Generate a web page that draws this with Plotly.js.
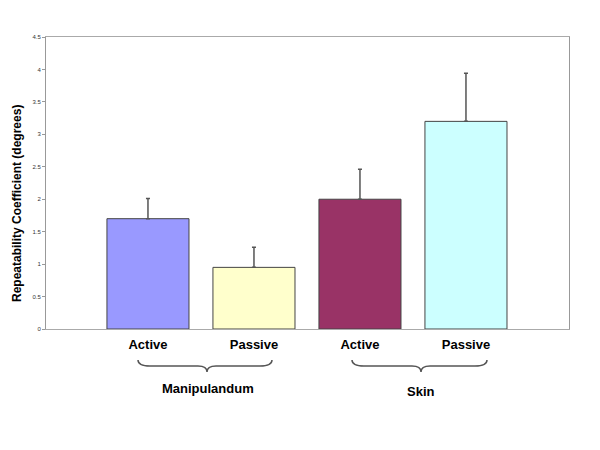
<!DOCTYPE html>
<html>
<head>
<meta charset="utf-8">
<script src="https://cdn.plot.ly/plotly-3.0.1.min.js"></script>
<style>html,body{margin:0;padding:0;background:#fff}#chart{width:600px;height:450px}</style>
</head>
<body>
<div id="chart"></div>
<script>
// Data
var conditions = ['Active', 'Passive', 'Active', 'Passive'];
var groups = ['Manipulandum', 'Manipulandum', 'Skin', 'Skin'];
var values = [1.7, 0.95, 2.0, 3.2];
var errors = [0.31, 0.31, 0.46, 0.74];
var barColors = ['#9999ff', '#ffffcc', '#993366', '#ccffff'];
var yTicks = [0, 0.5, 1, 1.5, 2, 2.5, 3, 3.5, 4, 4.5];
var yTitle = 'Repeatability Coefficient (degrees)';

var idx = conditions.map(function (_, i) { return i; });

// Plot area in pixels (for decorations)
var L = 46, T = 37, R = 569, B = 329, W = 600, H = 450;
function px(x) { return (x - L) / (R - L); }
function py(y) { return (B - y) / (B - T); }

function brace(x1, x2, xc) {
  var y0 = 360, y1 = 366, y2 = 372;
  var p = 'M ' + px(x1) + ',' + py(y0) +
    ' Q ' + px(x1) + ',' + py(y1) + ' ' + px(x1 + 12) + ',' + py(y1) +
    ' L ' + px(xc - 9) + ',' + py(y1) +
    ' Q ' + px(xc) + ',' + py(y1) + ' ' + px(xc) + ',' + py(y2) +
    ' Q ' + px(xc) + ',' + py(y1) + ' ' + px(xc + 9) + ',' + py(y1) +
    ' L ' + px(x2 - 12) + ',' + py(y1) +
    ' Q ' + px(x2) + ',' + py(y1) + ' ' + px(x2) + ',' + py(y0);
  return { type: 'path', xref: 'paper', yref: 'paper', path: p,
    line: { color: '#555', width: 1.5 } };
}

var trace = {
  type: 'bar',
  x: idx,
  y: values,
  width: 0.774,
  marker: { color: barColors, line: { color: '#444', width: 1 } },
  error_y: { type: 'data', array: errors, arrayminus: errors.map(function () { return 0; }),
    symmetric: false, color: '#555', thickness: 1.5, width: 2 },
  hoverinfo: 'none'
};

var font = 'Arial, "Liberation Sans", sans-serif';

var layout = {
  width: W, height: H,
  margin: { l: L, r: W - R, t: T, b: H - B },
  paper_bgcolor: '#fff', plot_bgcolor: '#fff',
  showlegend: false,
  xaxis: {
    type: 'linear',
    range: [-0.962, 3.972],
    tickvals: idx, ticktext: conditions,
    showgrid: false, zeroline: false,
    showline: true, linecolor: '#aaa', linewidth: 1, mirror: true,
    ticks: '', ticklabelstandoff: 3,
    tickfont: { family: font, size: 13, color: '#000', weight: 'bold' }
  },
  yaxis: {
    range: [0, 4.5],
    tickvals: yTicks,
    ticktext: yTicks.map(String),
    showgrid: false, zeroline: false,
    showline: true, linecolor: '#999', linewidth: 1, mirror: true,
    ticks: 'outside', ticklen: 3, tickcolor: '#999',
    tickfont: { family: font, size: 6, color: '#333' }
  },
  shapes: [brace(138, 272, 207), brace(352, 487, 421)],
  annotations: [
    { xref: 'paper', yref: 'paper', x: px(208), y: py(388), xanchor: 'center', yanchor: 'middle',
      text: groups[0], showarrow: false,
      font: { family: font, size: 13, color: '#000', weight: 'bold' } },
    { xref: 'paper', yref: 'paper', x: px(421), y: py(391), xanchor: 'center', yanchor: 'middle',
      text: groups[2], showarrow: false,
      font: { family: font, size: 13, color: '#000', weight: 'bold' } },
    { xref: 'paper', yref: 'paper', x: px(17), y: py(204), xanchor: 'center', yanchor: 'middle',
      text: yTitle, textangle: -90, showarrow: false,
      font: { family: font, size: 12, color: '#000', weight: 'bold' } }
  ]
};

Plotly.newPlot('chart', [trace], layout, { displayModeBar: false, staticPlot: true });
</script>
</body>
</html>
